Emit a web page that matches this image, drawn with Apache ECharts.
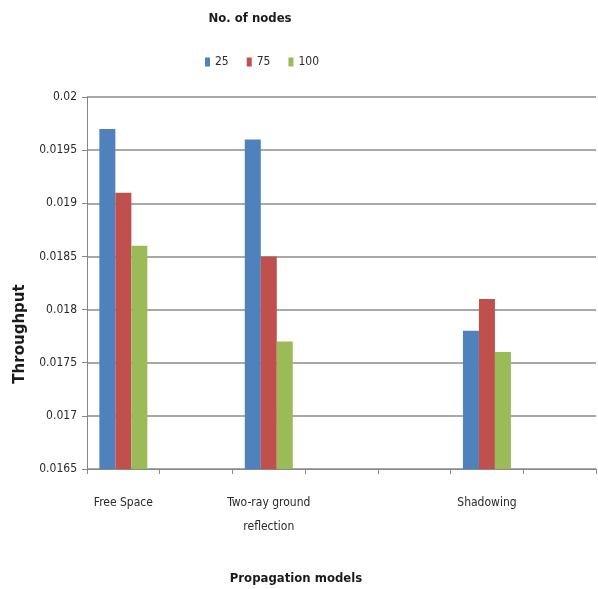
<!DOCTYPE html>
<html>
<head>
<meta charset="utf-8">
<script src="https://cdn.jsdelivr.net/npm/echarts@6/dist/echarts.min.js"></script>
<style>
  html, body { margin: 0; padding: 0; background: #fff; }
  #chart { width: 598px; height: 589px; }
</style>
</head>
<body>
<div id="chart"></div>
<script>
// Propagation models along the x axis (empty slots keep the spacing between groups)
const categories = ['Free Space', '', 'Two-ray ground\nreflection', '', '', 'Shadowing', ''];

// Throughput for each node count
const nodes25  = [0.0197, null, 0.0196, null, null, 0.0178, null];
const nodes75  = [0.0191, null, 0.0185, null, null, 0.0181, null];
const nodes100 = [0.0186, null, 0.0177, null, null, 0.0176, null];

const seriesNames = ['25', '75', '100'];
const seriesColors = ['#4F81BD', '#C0504D', '#9BBB59'];

const yMin = 0.0165;
const yMax = 0.02;
const yStep = 0.0005;

const narrow = "'DejaVu Sans Condensed', 'Liberation Sans Narrow', 'Liberation Sans', sans-serif";

const chart = echarts.init(document.getElementById('chart'), null, { renderer: 'canvas' });

const seriesData = [nodes25, nodes75, nodes100];

chart.setOption({
  animation: false,
  backgroundColor: '#ffffff',
  title: [
    {
      text: 'No. of nodes',
      left: 245,
      top: 7,
      textAlign: 'center',
      textStyle: { fontFamily: narrow, fontSize: 13, fontWeight: 'bold', color: '#1a1a1a' }
    },
    {
      text: 'Propagation models',
      left: 291,
      top: 567,
      textAlign: 'center',
      textStyle: { fontFamily: narrow, fontSize: 13, fontWeight: 'bold', color: '#1a1a1a' }
    }
  ],
  legend: {
    left: 200,
    top: 51,
    itemWidth: 5,
    itemHeight: 9,
    itemGap: 18,
    icon: 'rect',
    data: seriesNames,
    textStyle: { fontFamily: narrow, fontSize: 12, color: '#2a2a2a' }
  },
  graphic: [
    {
      type: 'text',
      x: 20,
      y: 334,
      rotation: Math.PI / 2,
      style: {
        text: 'Throughput',
        fontFamily: "'DejaVu Sans', sans-serif",
        fontSize: 15,
        fontWeight: 'bold',
        fill: '#1a1a1a',
        align: 'center',
        verticalAlign: 'middle'
      }
    }
  ],
  grid: {
    left: 87,
    right: 2,
    top: 97,
    bottom: 120,
    containLabel: false
  },
  xAxis: {
    type: 'category',
    data: categories,
    boundaryGap: true,
    axisLine: { show: true, lineStyle: { color: '#888888', width: 1 } },
    axisTick: { show: true, interval: 0, alignWithLabel: false, length: 5, lineStyle: { color: '#888888' } },
    axisLabel: {
      interval: 0,
      margin: 22,
      lineHeight: 24,
      fontFamily: narrow,
      fontSize: 12,
      color: '#2a2a2a'
    },
    splitLine: { show: false }
  },
  yAxis: {
    type: 'value',
    min: yMin,
    max: yMax,
    interval: yStep,
    axisLine: { show: true, lineStyle: { color: '#888888', width: 1 } },
    axisTick: { show: true, length: 5, lineStyle: { color: '#888888' } },
    axisLabel: {
      margin: 10,
      fontFamily: narrow,
      fontSize: 12,
      color: '#2a2a2a',
      formatter: v => String(parseFloat(v.toFixed(4)))
    },
    splitLine: { show: true, lineStyle: { color: '#a8a8a8', width: 2 } }
  },
  series: seriesNames.map((name, i) => ({
    name: name,
    type: 'bar',
    data: seriesData[i],
    barGap: '0%',
    barCategoryGap: '34%',
    itemStyle: { color: seriesColors[i] }
  }))
});
</script>
</body>
</html>
